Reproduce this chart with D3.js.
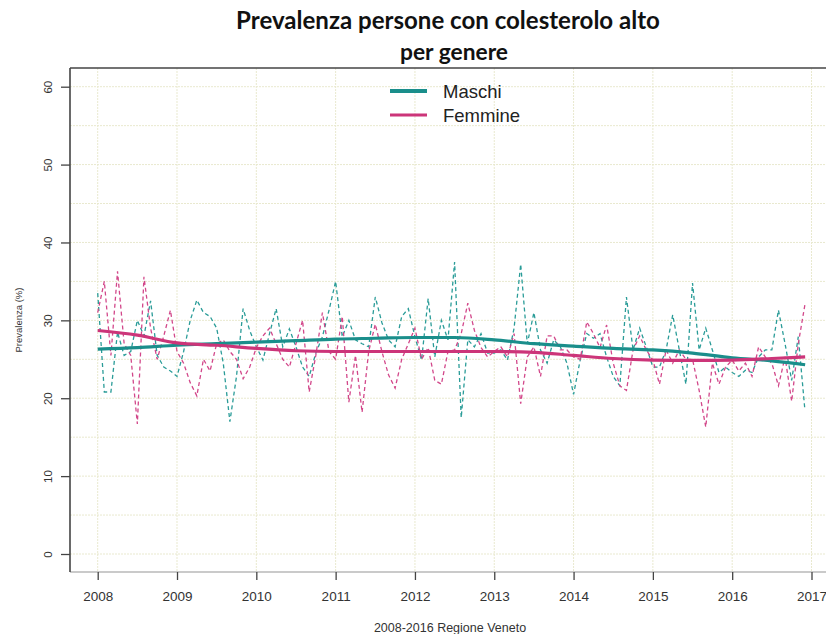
<!DOCTYPE html>
<html><head><meta charset="utf-8">
<script src="https://cdn.jsdelivr.net/npm/d3@7"></script>
<style>
html,body{margin:0;padding:0;background:#fff;}
svg{display:block;}
</style></head>
<body>
<svg id="chart" width="826" height="634"></svg>
<script>
// ---- data ----
const startYear = 2008;
const years = [2008, 2009, 2010, 2011, 2012, 2013, 2014, 2015, 2016, 2017];
const yTicks = [0, 10, 20, 30, 40, 50, 60];
const seriesNames = ["Maschi", "Femmine"];
const maschi = [
33.5,20.8,20.8,28.5,25.5,26.0,30.0,28.0,32.5,25.5,24.0,23.5,
22.8,26.0,30.0,32.6,31.0,30.5,29.0,24.5,17.0,22.8,31.5,28.7,
26.6,24.9,28.3,31.5,26.6,28.9,26.6,24.0,22.8,25.8,27.9,31.3,
35.0,27.9,30.0,27.5,27.0,26.6,33.0,29.7,27.5,26.6,30.5,31.5,
27.9,24.9,32.8,25.3,30.0,27.5,37.5,17.5,27.5,26.6,28.3,25.8,
25.8,26.2,24.9,29.0,37.2,27.0,31.0,26.2,24.5,27.5,26.6,24.5,
20.5,24.9,28.3,27.7,28.3,25.3,22.8,21.6,33.0,26.2,29.0,26.6,
24.0,24.0,26.2,30.7,26.2,21.8,34.8,26.2,29.0,26.2,23.3,24.0,
23.3,22.8,23.6,23.3,25.3,26.2,26.2,31.3,27.0,22.3,27.9,18.5];
const femmine = [
31.0,35.0,25.5,36.3,27.0,25.5,16.7,35.6,29.0,25.0,28.0,31.3,
26.0,24.5,22.0,20.3,25.0,23.5,27.0,27.5,26.0,25.0,22.5,24.0,
26.5,28.0,29.0,27.0,25.0,24.0,27.0,30.0,20.8,25.5,31.0,26.0,
25.0,30.5,19.5,25.5,18.2,26.0,29.5,26.0,23.0,21.3,25.0,27.0,
29.0,25.0,26.5,22.3,21.8,26.0,26.2,28.3,32.2,28.7,26.5,25.3,
26.0,26.6,25.3,28.3,19.3,25.3,26.6,22.8,28.0,28.0,26.2,26.2,
25.3,25.0,29.8,28.3,26.5,29.4,24.5,21.6,21.0,26.2,28.0,26.2,
24.9,21.8,26.2,24.5,26.2,25.0,25.0,21.0,16.3,24.5,21.8,24.0,
24.9,23.5,24.5,22.8,26.6,25.3,24.5,21.6,25.3,19.6,27.0,32.0];
const trendYears   = [2008,2008.5,2009,2009.5,2010,2010.5,2011,2011.5,2012,2012.5,2013,2013.5,2014,2014.5,2015,2015.5,2016,2016.5,2016.92];
const maschiTrend  = [26.3,26.5,26.8,27.0,27.2,27.4,27.6,27.7,27.8,27.8,27.5,27.0,26.7,26.4,26.2,25.8,25.2,24.8,24.3];
const femmineTrend = [28.7,28.1,27.1,26.8,26.4,26.1,26.0,26.0,26.0,26.0,26.0,25.9,25.5,25.1,24.9,24.85,24.9,25.1,25.3];

// ---- styles ----
const colM = "#1a8e8b", colF = "#cc3579";
const colMd = "#2a9c98", colFd = "#d2478a";
const gridCol = "#e9e9cf";

const svg = d3.select("#chart");
const L = 70, R = 832, T = 68, B = 572;

const x = d3.scaleLinear().domain([2008, 2017]).range([97.7, 811.5]);
const y = d3.scaleLinear().domain([0, 60]).range([554, 86.7]);

// grid
const g = svg.append("g");
g.selectAll("line.h").data(d3.range(0, 61, 5)).enter().append("line")
  .attr("x1", L).attr("x2", R).attr("y1", d => y(d)).attr("y2", d => y(d))
  .attr("stroke", gridCol).attr("stroke-width", 1).attr("stroke-dasharray", "2,1");
g.selectAll("line.v").data(years).enter().append("line")
  .attr("y1", T).attr("y2", B).attr("x1", d => x(d)).attr("x2", d => x(d))
  .attr("stroke", gridCol).attr("stroke-width", 1).attr("stroke-dasharray", "2,1");

// box
svg.append("line").attr("x1", L).attr("x2", R).attr("y1", T).attr("y2", T).attr("stroke", "#444").attr("stroke-width", 1.3);
svg.append("line").attr("x1", L).attr("x2", R).attr("y1", B).attr("y2", B).attr("stroke", "#b8b8b8").attr("stroke-width", 1.6);
svg.append("line").attr("x1", L).attr("x2", L).attr("y1", T).attr("y2", B).attr("stroke", "#444").attr("stroke-width", 1.6);

// y axis
const yAxis = svg.append("g").attr("transform", `translate(${L},0)`)
  .call(d3.axisLeft(y).tickValues(yTicks).tickSize(9).tickFormat(d3.format("d")));
yAxis.select(".domain").remove();
yAxis.selectAll(".tick line").attr("stroke", "#444").attr("stroke-width", 1.3);
yAxis.selectAll(".tick text")
  .attr("x", null).attr("dy", null)
  .attr("transform", "translate(-18,0) rotate(-90)")
  .attr("text-anchor", "middle")
  .attr("font-family", "'Liberation Sans', Arial, sans-serif")
  .attr("font-size", "11.5px").attr("fill", "#333");

// x axis
const xAxis = svg.append("g").attr("transform", `translate(0,${B})`)
  .call(d3.axisBottom(x).tickValues(years).tickSize(8).tickFormat(d3.format("d")));
xAxis.select(".domain").remove();
xAxis.selectAll(".tick line").attr("stroke", "#444").attr("stroke-width", 1.3);
xAxis.selectAll(".tick text")
  .attr("y", 29).attr("dy", null)
  .attr("font-family", "'Liberation Sans', Arial, sans-serif")
  .attr("font-size", "13.5px").attr("fill", "#333");

// lines
const pts = arr => arr.map((v, i) => [startYear + i / 12, v]);
const line = d3.line().x(d => x(d[0])).y(d => y(d[1]));
const smooth = d3.line().x(d => x(d[0])).y(d => y(d[1])).curve(d3.curveMonotoneX);

svg.append("path").datum(pts(maschi)).attr("d", line)
  .attr("fill", "none").attr("stroke", colMd).attr("stroke-width", 1.3).attr("stroke-dasharray", "4,3");
svg.append("path").datum(pts(femmine)).attr("d", line)
  .attr("fill", "none").attr("stroke", colFd).attr("stroke-width", 1.3).attr("stroke-dasharray", "4,3");

svg.append("path").datum(trendYears.map((t, i) => [t, maschiTrend[i]])).attr("d", smooth)
  .attr("fill", "none").attr("stroke", colM).attr("stroke-width", 3.2);
svg.append("path").datum(trendYears.map((t, i) => [t, femmineTrend[i]])).attr("d", smooth)
  .attr("fill", "none").attr("stroke", colF).attr("stroke-width", 3.2);

// legend
const leg = [{n: seriesNames[0], c: colM, w: 4, y: 91}, {n: seriesNames[1], c: colF, w: 3, y: 115}];
leg.forEach(l => {
  svg.append("line").attr("x1", 390).attr("x2", 427).attr("y1", l.y).attr("y2", l.y)
    .attr("stroke", l.c).attr("stroke-width", l.w);
  svg.append("text").attr("x", 443).attr("y", l.y + 6.5).text(l.n)
    .attr("font-family", "'Liberation Sans', Arial, sans-serif").attr("font-size", "18.5px").attr("fill", "#222");
});

// titles
const t1 = svg.append("text").attr("x", 448).attr("y", 29).attr("text-anchor", "middle")
  .attr("font-family", "Lato, 'Open Sans', sans-serif").attr("font-weight", "bold").attr("font-size", "20px")
  .attr("fill", "#111").text("Prevalenza persone con colesterolo alto");
const w1 = t1.node().getComputedTextLength();
if (w1 > 0) t1.attr("font-size", (20 * 424 / w1).toFixed(2) + "px");
const t2 = svg.append("text").attr("x", 454).attr("y", 60).attr("text-anchor", "middle")
  .attr("font-family", "Lato, 'Open Sans', sans-serif").attr("font-weight", "bold").attr("font-size", "20px")
  .attr("fill", "#111").text("per genere");
const w2 = t2.node().getComputedTextLength();
if (w2 > 0) t2.attr("font-size", (20 * 108 / w2).toFixed(2) + "px");

// axis titles
svg.append("text").attr("transform", "translate(22,320) rotate(-90)").attr("text-anchor", "middle")
  .attr("font-family", "'Liberation Sans', Arial, sans-serif").attr("font-size", "9.5px").attr("fill", "#333")
  .text("Prevalenza (%)");
svg.append("text").attr("x", 450).attr("y", 632).attr("text-anchor", "middle")
  .attr("font-family", "'Liberation Sans Narrow', 'Liberation Sans', Arial, sans-serif").attr("font-size", "12.5px").attr("fill", "#333")
  .text("2008-2016 Regione Veneto");
</script>
</body></html>
